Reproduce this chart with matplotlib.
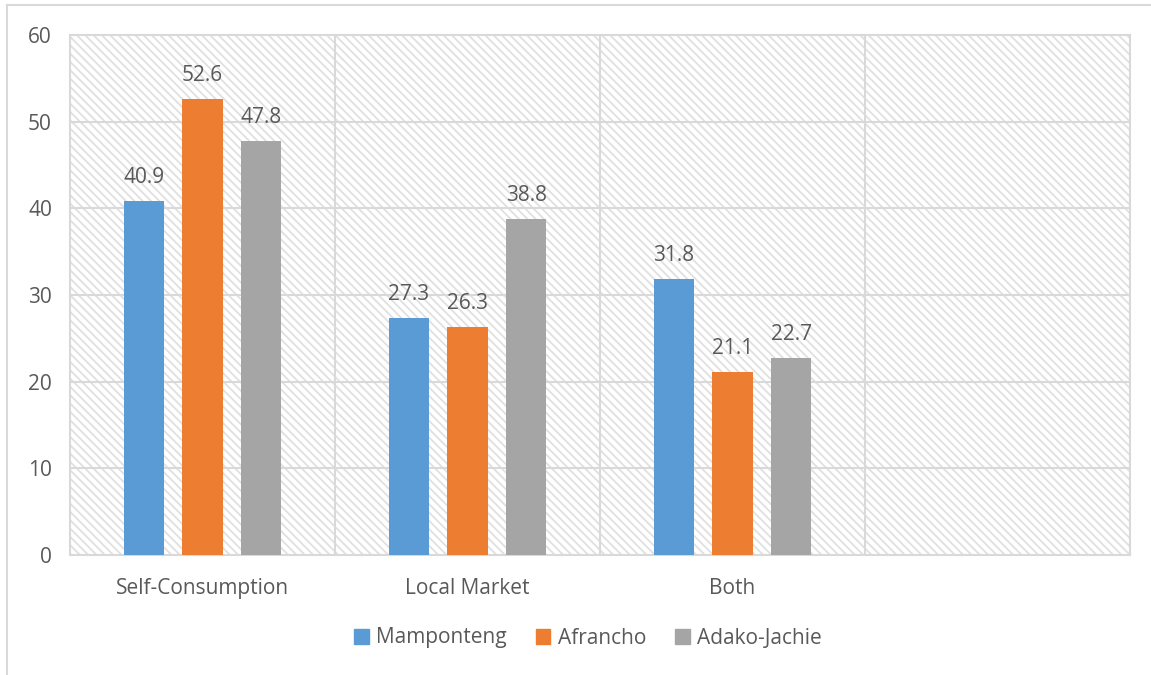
import numpy as np
import matplotlib.pyplot as plt
from matplotlib.patches import Rectangle
from matplotlib.lines import Line2D

plt.rcParams.update({"font.family": ["Open Sans", "DejaVu Sans"], "font.size": 15})
plt.rcParams['hatch.linewidth'] = 1.3

categories = ['Self-Consumption', 'Local Market', 'Both', '']
series = ['Mamponteng', 'Afrancho', 'Adako-Jachie']
mamponteng = [40.9, 27.3, 31.8]
afrancho = [52.6, 26.3, 21.1]
adako_jachie = [47.8, 38.8, 22.7]
colors = ['#5b9bd5', '#ed7d31', '#a5a5a5']

grid_c = '#d9d9d9'
text_c = '#595959'

fig = plt.figure(figsize=(11.51, 6.75), dpi=100)
ax = fig.add_axes([70/1151, 1-555/675, 1060/1151, 520/675])

# hatched plot background
ax.add_patch(Rectangle((0, 0), 1, 1, transform=ax.transAxes, facecolor='white',
                       edgecolor='#e0e0e0', hatch='\\\\\\\\', linewidth=0, zorder=0))

x = np.arange(3) + 0.5
width = 0.151
step = 0.221
for k, (name, vals) in enumerate(zip(series, [mamponteng, afrancho, adako_jachie])):
    pos = x + (k - 1) * step
    ax.bar(pos, vals, width, color=colors[k], label=name, zorder=3)
    for p, v in zip(pos, vals):
        ax.text(p, v + 1.5, f'{v}', ha='center', va='bottom', color=text_c)

ax.set_xlim(0, 4)
ax.set_ylim(0, 60)
ax.set_yticks(np.arange(0, 61, 10))
ax.set_xticks([])
for i, c in enumerate(categories):
    ax.text(i + 0.5, -2.6, c, ha='center', va='top', color=text_c)
for xv in [1, 2, 3]:
    ax.axvline(xv, color=grid_c, lw=1.5, zorder=1)
for yv in np.arange(10, 60, 10):
    ax.axhline(yv, color=grid_c, lw=1.5, zorder=1)
ax.tick_params(axis='y', length=0, pad=13, labelcolor=text_c, labelsize=15)
for s in ax.spines.values():
    s.set_color(grid_c)
    s.set_linewidth(1.5)

handles = [Rectangle((0, 0), 1, 1, color=c) for c in colors]
leg = fig.legend(handles, series, loc='center', bbox_to_anchor=(588/1151, 1-638/675),
                 ncol=3, frameon=False, handlelength=0.7, handleheight=0.7,
                 handletextpad=0.35, columnspacing=1.4)
for t in leg.get_texts():
    t.set_color(text_c)

# chart frame
fig.add_artist(Line2D([7/1151, 7/1151], [0, 1-5/675], color=grid_c, lw=1.5))
fig.add_artist(Line2D([7/1151, 1], [1-5/675, 1-5/675], color=grid_c, lw=1.5))

plt.savefig('out.png', dpi=100)
